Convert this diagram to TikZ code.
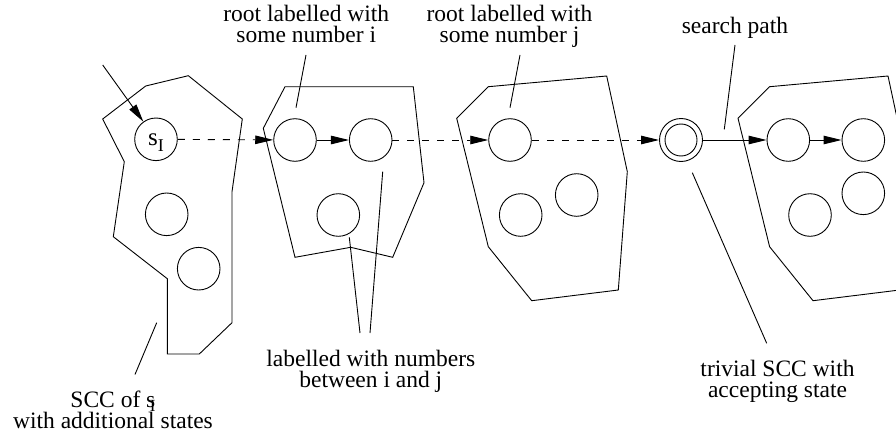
\documentclass[tikz,border=0pt]{standalone}
\usepackage{fontspec}
\setmainfont{Liberation Serif}
\usetikzlibrary{arrows.meta}

\begin{document}
\begin{tikzpicture}[x=1pt,y=-1pt,line width=0.9pt,
  state/.style={draw,circle,minimum size=42.6pt,inner sep=0pt},
  lbl/.style={font=\fontsize{23.5}{21}\selectfont,align=center,anchor=base,inner sep=0pt},
  go/.style={-{Triangle[length=18pt,width=8.5pt]}},
  path/.style={go,dashed,dash pattern=on 7pt off 8pt}]
  \useasboundingbox (0,0) rectangle (896,436);
  \clip (0,0) rectangle (896,436);

  % outlines of the SCCs
  \draw (102.7,119) -- (145.7,86) -- (188.3,75.7) -- (242.3,119) -- (232,191.7)
    -- (232,322.7) -- (199.3,354) -- (167.3,354) -- (167.3,278.7) -- (113.3,236.7)
    -- (124.3,161.7) -- cycle;
  \draw (263.3,128.3) -- (285,86.7) -- (413.3,86.7) -- (424,182.7) -- (392.7,257.3)
    -- (350.7,247.3) -- (295,257.3) -- cycle;
  \draw (456.7,118.3) -- (488.3,86.7) -- (606.7,76) -- (627.3,171.7) -- (618.3,290)
    -- (531.7,300.7) -- (488.3,246.7) -- cycle;
  \draw (738,118.3) -- (769.6,86.7) -- (888,76) -- (908.6,171.7) -- (899.6,290)
    -- (813,300.7) -- (769.6,246.7) -- cycle;

  % states
  \node[state,text height=19pt,text depth=6pt] (sI) at (156,139.3)
    {{\fontsize{25}{25}\selectfont s}\raisebox{-6pt}{\fontsize{18}{18}\selectfont I}};
  \node[state] (sb) at (166.7,214.3) {};
  \node[state] (sc) at (198.7,268.7) {};
  \node[state] (ri) at (295,140) {};
  \node[state] (ra) at (370.7,140) {};
  \node[state] (rb) at (338.3,215) {};
  \node[state] (rj) at (510,140) {};
  \node[state] (ja) at (520.7,215) {};
  \node[state] (jb) at (576.7,195) {};
  \node[state,minimum size=43pt] (acc) at (681,140) {};
  \draw (acc.center) circle (16pt);
  \node[state] (ta) at (788.3,140) {};
  \node[state] (tb) at (863.3,140) {};
  \node[state] (tc) at (810,215) {};
  \node[state] (td) at (863.3,193.3) {};

  % initial arrow and search path
  \coordinate (init) at (102.7,65);
  \draw[go] (init) -- (sI);
  \draw[path] (sI) -- (ri);
  \draw[go] (ri) -- (ra);
  \draw[path] (ra) -- (rj);
  \draw[path] (rj) -- (acc);
  \draw[go] (acc) -- (ta);
  \draw[go] (ta) -- (tb);

  % labels (base = last line)
  \node[lbl] (rooti) at (306.3,42.7) {root labelled with\\some number i};
  \node[lbl] (rootj) at (509.5,42.7) {root labelled with\\some number j};
  \node[lbl] (search) at (735,33.3) {search path};
  \node[lbl] (trivial) at (777.5,397) {trivial SCC with\\accepting state};
  \node[lbl] (between) at (370.8,387.5) {labelled with numbers\\between i and j};
  \node[lbl] (sccof) at (113,428.3)
    {SCC of s\kern-5.5pt\raisebox{-3.7pt}{\fontsize{17}{17}\selectfont I}\\with additional states};

  % leader lines
  \coordinate (rooti-a) at (306,55);
  \coordinate (rooti-b) at (296,107.7);
  \draw (rooti-a) -- (rooti-b);
  \coordinate (rootj-a) at (520,55);
  \coordinate (rootj-b) at (510,107.7);
  \draw (rootj-a) -- (rootj-b);
  \coordinate (search-a) at (735,45);
  \coordinate (search-b) at (724.3,129.3);
  \draw (search-a) -- (search-b);
  \coordinate (trivial-a) at (692.3,172.7);
  \coordinate (trivial-b) at (766.7,343.3);
  \draw (trivial-a) -- (trivial-b);
  \coordinate (between-a) at (349.3,237.3);
  \coordinate (between-b) at (382.7,171.7);
  \coordinate (between-c) at (360,333);
  \coordinate (between-d) at (370,333);
  \draw (between-a) -- (between-c);
  \draw (between-b) -- (between-d);
  \coordinate (sccof-a) at (156.7,322.7);
  \coordinate (sccof-b) at (135,374.5);
  \draw (sccof-a) -- (sccof-b);
\end{tikzpicture}
\end{document}
